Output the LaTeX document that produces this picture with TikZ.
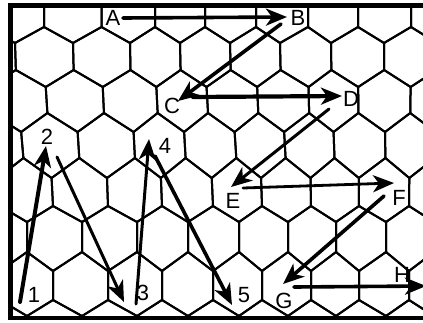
\documentclass[tikz,border=0pt]{standalone}
\usepackage{fontspec}
\usetikzlibrary{arrows.meta}
\newfontfamily\lblfont{Liberation Sans}
\def\toparr{{-43,-14,15,44,73,101.5,130,155,180,205,230,256,280,308,331,358,384,411,437,463,489}}
\def\botarr{{-25,0,27,53,82,108,137,162,188,213,239,262,288,311,336,359,386,409,434,459,484}}
\def\Ylev{{0,43,87,132,178,222,271,316,361}}
\def\Zlev{{-17,27,70,113,158,206,252,300,345}}
\newcommand\hexP[3]{%
  \pgfmathtruncatemacro\hidx{round(2*(#2)+2)}%
  \pgfmathsetmacro\hxt{\toparr[\hidx]}%
  \pgfmathsetmacro\hxb{\botarr[\hidx]}%
  \pgfmathsetmacro\htt{min(max(((#3)-60)/140,0),1)}%
  \pgfmathsetmacro\hxx{\hxt+\htt*(\hxb-\hxt)}%
  \coordinate (#1) at (\hxx,#3);%
}
\tikzset{
  gridline/.style={line width=2pt, line join=round},
  arr/.style={line width=3.6pt, line cap=round, -{Stealth[length=21pt,width=17pt,inset=6pt]}},
  lbl/.style={font={\lblfont\fontsize{22pt}{22pt}\selectfont}, inner sep=0pt}
}
\begin{document}
\begin{tikzpicture}[x=1pt,y=-1pt]
\useasboundingbox (0,0) rectangle (423,322);
\fill[white] (0,0) rectangle (423,322);
% hex grid
\begin{scope}
\clip (10.5,5.5) rectangle (430,318);
\foreach \r in {0,...,7} {
  \pgfmathsetmacro\yT{\Zlev[\r]}
  \pgfmathsetmacro\yA{\Ylev[\r]}
  \pgfmathtruncatemacro\rn{\r+1}
  \pgfmathsetmacro\yL{\Zlev[\rn]}
  \pgfmathsetmacro\yB{\Ylev[\rn]}
  \pgfmathsetmacro\sh{mod(\r,2)==1 ? -0.5 : 0}
  \foreach \k in {0,...,8} {
    \pgfmathsetmacro\uc{\k+\sh}
    \hexP{h1}{\uc}{\yT}
    \hexP{h2}{\uc+0.5}{\yA}
    \hexP{h3}{\uc+0.5}{\yL}
    \hexP{h4}{\uc}{\yB}
    \hexP{h5}{\uc-0.5}{\yL}
    \hexP{h6}{\uc-0.5}{\yA}
    \draw[gridline] (h1) -- (h2) -- (h3) -- (h4) -- (h5) -- (h6) -- cycle;
  }
}
\end{scope}
% frame
\draw[line width=4.5pt] (430,5.5) -- (10.5,5.5) -- (10.5,318) -- (430,318);
% labels
\node[lbl] (A) at (113,18) {A};
\node[lbl] (B) at (298,18) {B};
\node[lbl] (C) at (172,106) {C};
\node[lbl] (D) at (351,99) {D};
\node[lbl] (E) at (233,201) {E};
\node[lbl] (F) at (399,198) {F};
\node[lbl] (G) at (284,301) {G};
\node[lbl] (H) at (402,275) {H};
\node[lbl] (n1) at (34,295) {1};
\node[lbl] (n2) at (47,137) {2};
\node[lbl] (n3) at (143,293) {3};
\node[lbl] (n4) at (165,146) {4};
\node[lbl] (n5) at (244,295) {5};
% arrows
\draw[arr] ([shift={(10,0)}]A.center) -- ([shift={(-11,-1)}]B.center);
\draw[arr] ([shift={(-17,6)}]B.center) -- ([shift={(6,-5)}]C.center);
\draw[arr, line width=4.2pt] ([shift={(21,-9)}]C.center) -- ([shift={(-9,-3)}]D.center);
\draw[arr, line width=3pt] ([shift={(-22,10)}]D.center) -- ([shift={(-2,-14)}]E.center);
\draw[arr, line width=2.8pt] ([shift={(10,-13)}]E.center) -- ([shift={(-5,-15)}]F.center);
\draw[arr] ([shift={(-15,-2)}]F.center) -- ([shift={(-1,-17)}]G.center);
\draw[arr] ([shift={(10,-14)}]G.center) -- ([shift={(24,11)}]H.center);
\draw[arr, line width=4pt] ([shift={(-14,7)}]n1.center) -- ([shift={(-1,9)}]n2.center);
\draw[arr, line width=3pt] ([shift={(10,20)}]n2.center) -- ([shift={(-19,9)}]n3.center);
\draw[arr, line width=3pt] ([shift={(-7,11)}]n3.center) -- ([shift={(-16,-7)}]n4.center);
\draw[arr] ([shift={(-10,10)}]n4.center) -- ([shift={(-12,10)}]n5.center);
\end{tikzpicture}
\end{document}
